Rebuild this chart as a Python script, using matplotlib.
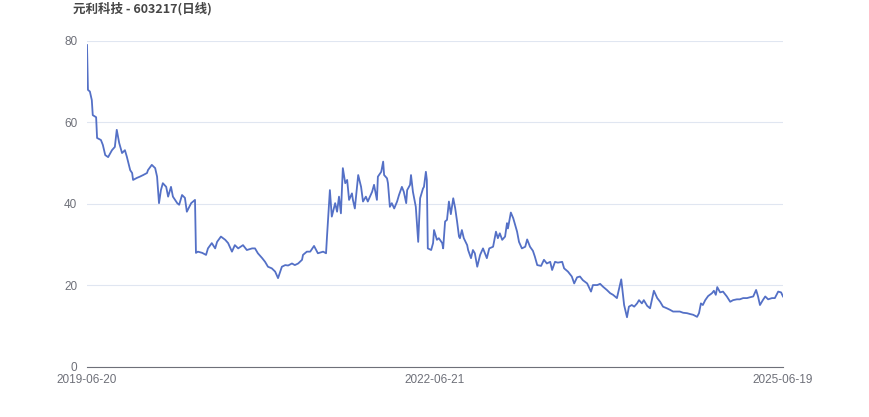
import matplotlib
matplotlib.use("Agg")
import matplotlib.pyplot as plt

# Data (trading day index, close)
days = [
    0, 2, 6, 10, 12, 19, 21, 29, 33, 38, 44, 52, 58, 62, 67, 73, 79, 83, 90, 94,
    96, 104, 110, 117, 125, 127, 135, 142, 146, 150, 154, 158, 165, 169, 175, 179, 188, 192, 198, 204,
    208, 217, 221, 225, 227, 231, 240, 248, 252, 260, 267, 271, 279, 288, 294, 302, 308, 315, 325, 333,
    344, 350, 356, 365, 371, 377, 385, 392, 398, 406, 413, 419, 427, 433, 440, 448, 450, 458, 465, 473,
    481, 492, 498, 500, 506, 510, 517, 521, 525, 529, 533, 538, 542, 546, 552, 554, 558, 565, 571, 575,
    581, 585, 594, 598, 604, 606, 613, 617, 619, 625, 627, 631, 635, 640, 646, 650, 656, 660, 665, 667,
    673, 675, 679, 685, 690, 694, 700, 702, 706, 708, 710, 717, 721, 723, 729, 733, 740, 742, 746, 750,
    754, 758, 763, 767, 771, 775, 777, 781, 785, 792, 794, 800, 804, 808, 813, 819, 825, 829, 833, 838,
    846, 852, 856, 860, 865, 871, 875, 877, 883, 888, 896, 900, 906, 913, 917, 923, 929, 933, 938, 946,
    952, 958, 965, 969, 975, 981, 990, 994, 1002, 1010, 1015, 1021, 1027, 1033, 1042, 1050, 1054, 1063, 1069, 1075,
    1083, 1090, 1096, 1104, 1108, 1113, 1117, 1119, 1125, 1129, 1135, 1140, 1146, 1150, 1156, 1160, 1167, 1173, 1181, 1188,
    1194, 1200, 1208, 1215, 1221, 1229, 1235, 1242, 1250, 1256, 1263, 1271, 1275, 1279, 1283, 1288, 1294, 1302, 1306, 1310,
    1313, 1319, 1325, 1333, 1340, 1346, 1354, 1360, 1367, 1375, 1381, 1388, 1394, 1398, 1402, 1408, 1413, 1419, 1427, 1433,
    1440, 1446, 1450,
]
close = [
    79.0, 68.0, 67.6, 65.5, 61.8, 61.3, 56.2, 55.7, 54.5, 52.0, 51.5, 53.2, 54.0, 58.2, 55.0, 52.5, 53.2, 51.6, 48.3, 47.6,
    45.9, 46.4, 46.7, 47.1, 47.6, 48.3, 49.6, 48.8, 46.7, 40.2, 43.4, 45.1, 44.2, 41.8, 44.2, 41.8, 40.2, 39.8, 42.2, 41.5,
    38.1, 40.2, 40.6, 41.0, 28.0, 28.3, 28.0, 27.5, 29.1, 30.4, 29.1, 30.7, 32.0, 31.2, 30.4, 28.3, 29.9, 29.1, 29.9, 28.7,
    29.1, 29.1, 27.9, 26.7, 25.8, 24.6, 24.2, 23.4, 21.8, 24.6, 25.0, 24.9, 25.4, 25.0, 25.4, 26.3, 27.5, 28.3, 28.3, 29.7,
    27.9, 28.3, 27.9, 32.0, 43.4, 36.9, 40.2, 38.1, 41.8, 37.7, 48.8, 45.1, 45.9, 41.0, 42.6, 41.0, 38.9, 47.1, 44.2, 40.6,
    41.8, 40.6, 43.0, 44.7, 41.0, 46.7, 47.9, 50.4, 47.1, 46.3, 45.1, 39.3, 40.2, 38.9, 40.6, 42.2, 44.2, 43.0, 40.2, 43.4,
    44.7, 47.1, 43.0, 39.3, 30.7, 41.4, 43.8, 44.2, 47.9, 45.9, 29.1, 28.7, 30.4, 33.6, 31.2, 31.6, 30.4, 29.1, 35.7, 36.1,
    40.6, 37.5, 41.4, 39.0, 35.7, 32.0, 31.6, 33.6, 31.6, 29.9, 28.7, 26.7, 28.7, 27.9, 24.6, 27.5, 29.1, 27.9, 26.7, 29.1,
    29.5, 33.2, 31.6, 32.8, 31.2, 32.0, 35.3, 34.0, 37.9, 36.5, 33.2, 30.7, 29.1, 29.5, 31.3, 29.5, 28.5, 27.1, 25.0, 24.8,
    26.3, 25.4, 25.8, 23.8, 25.8, 25.6, 25.8, 24.2, 23.4, 22.2, 20.5, 22.0, 22.2, 21.3, 20.5, 18.5, 20.1, 20.1, 20.4, 19.7,
    18.9, 18.1, 17.7, 16.9, 18.9, 21.5, 17.3, 15.2, 12.2, 14.8, 15.2, 14.8, 15.6, 16.4, 15.6, 16.4, 15.0, 14.4, 18.7, 16.9,
    16.0, 14.8, 14.4, 14.0, 13.6, 13.6, 13.6, 13.3, 13.2, 13.0, 12.8, 12.3, 13.2, 15.6, 15.2, 16.4, 17.4, 18.1, 18.7, 17.7,
    19.6, 18.3, 18.5, 17.3, 16.0, 16.4, 16.6, 16.6, 16.9, 16.9, 17.1, 17.3, 18.9, 17.3, 15.2, 16.4, 17.3, 16.6, 16.9, 16.9,
    18.5, 18.3, 17.3,
]
tick_days = [0, 725, 1450]
tick_labels = ["2019-06-20", "2022-06-21", "2025-06-19"]
y_ticks = [0, 20, 40, 60, 80]
title = "元利科技 - 603217(日线)"

plt.rcParams['font.family'] = ['Liberation Sans', 'Noto Sans CJK SC', 'DejaVu Sans']

fig = plt.figure(figsize=(8.7, 4.17), dpi=100)
ax = fig.add_axes([0.1, 0.12, 0.8, 0.7817])

ax.plot(days, close, color="#5470c6", linewidth=1.3)

ax.set_xlim(0, 1450)
ax.set_ylim(0, 80)
ax.set_yticks(y_ticks)
ax.set_xticks(tick_days)
ax.set_xticklabels(tick_labels)

ax.grid(axis='y', color="#E0E6F1", linewidth=0.8)
ax.set_axisbelow(True)
for side in ["top", "right", "left"]:
    ax.spines[side].set_visible(False)
ax.spines["bottom"].set_color("#6E7079")
ax.spines["bottom"].set_linewidth(0.8)
ax.tick_params(axis='both', length=0, labelsize=8.5, labelcolor="#6E7079")
ax.tick_params(axis='y', pad=7)
ax.tick_params(axis='x', pad=5)

fig.text(73 / 870, 1 - 9 / 417, title, fontsize=9, fontweight='bold', color="#464646",
         family=['Noto Sans CJK SC', 'DejaVu Sans'], va='center', ha='left')

fig.savefig("out.png", dpi=100)
